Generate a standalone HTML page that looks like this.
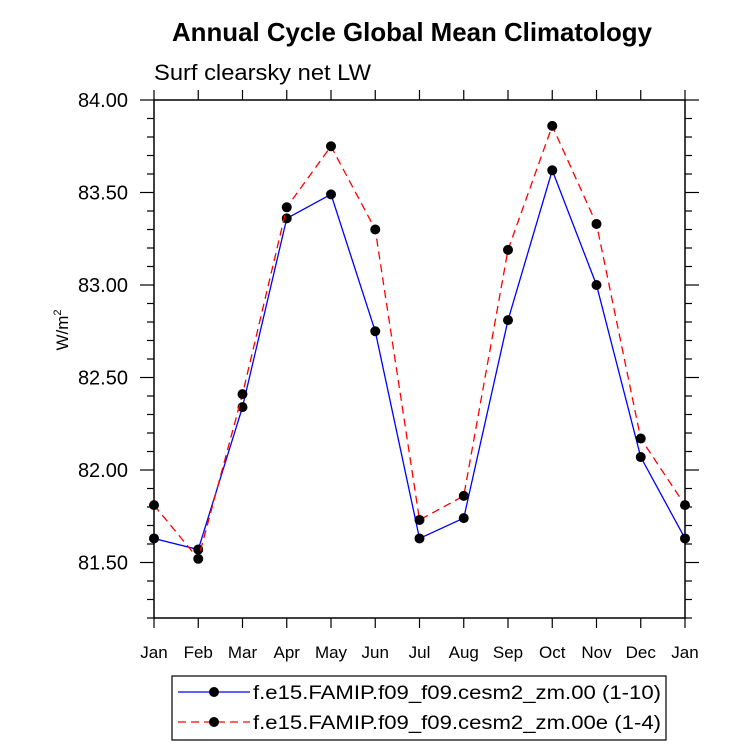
<!DOCTYPE html>
<html><head><meta charset="utf-8"><style>
body{margin:0;background:#fff;}
svg{display:block;font-family:"Liberation Sans",Arial,sans-serif;}
</style></head><body>
<svg id="chart" width="733" height="752" viewBox="0 0 733 752">
<text x="172" y="41" font-size="26" font-weight="bold" textLength="480" lengthAdjust="spacingAndGlyphs">Annual Cycle Global Mean Climatology</text>
<text x="154" y="80" font-size="22" textLength="217" lengthAdjust="spacingAndGlyphs">Surf clearsky net LW</text>
<text transform="translate(68,330) rotate(-90)" text-anchor="middle" font-size="17">W/m<tspan font-size="11" dy="-7">2</tspan></text>
<g id="axes"></g>
<g id="series"></g>
<g>
<rect x="172" y="676" width="494" height="64" fill="none" stroke="#000" stroke-width="1.2"/>
<g>
<line x1="178" y1="692" x2="250" y2="692" stroke="#00f" stroke-width="1.3"/>
<circle cx="214" cy="692" r="5" fill="#000"/>
<text x="253" y="699" font-size="19" textLength="408" lengthAdjust="spacingAndGlyphs">f.e15.FAMIP.f09_f09.cesm2_zm.00 (1-10)</text>
</g>
<g>
<line x1="178" y1="722" x2="250" y2="722" stroke="#f00" stroke-width="1.3" stroke-dasharray="8,5"/>
<circle cx="214" cy="722" r="5" fill="#000"/>
<text x="253" y="729" font-size="19" textLength="408" lengthAdjust="spacingAndGlyphs">f.e15.FAMIP.f09_f09.cesm2_zm.00e (1-4)</text>
</g>
</g>
</svg>
<script>
const months = ["Jan","Feb","Mar","Apr","May","Jun","Jul","Aug","Sep","Oct","Nov","Dec","Jan"];
const blueValues = [81.63,81.57,82.34,83.36,83.49,82.75,81.63,81.74,82.81,83.62,83.00,82.07,81.63];
const redValues = [81.81,81.52,82.41,83.42,83.75,83.30,81.73,81.86,83.19,83.86,83.33,82.17,81.81];
const yTickLabels = ["81.50","82.00","82.50","83.00","83.50","84.00"];
const yMin = 81.2, yMax = 84.0;
const L=154,R=685,T=100,B=618;
const NS="http://www.w3.org/2000/svg";
function xs(i){return L+(R-L)*i/(months.length-1);}
function ys(v){return B-(B-T)*(v-yMin)/(yMax-yMin);}
function mk(tag,attrs,parent){const e=document.createElementNS(NS,tag);for(const k in attrs)e.setAttribute(k,attrs[k]);parent.appendChild(e);return e;}
const ax=document.getElementById('axes');
const frame=mk('rect',{x:L,y:T,width:R-L,height:B-T,fill:'none',stroke:'#000','stroke-width':1.5},ax);


for(let v=81.2;v<=84.0001;v+=0.1){
  const y=ys(v);const major=Math.abs((v*2)-Math.round(v*2))<1e-6;
  const len=major?14:7;
  mk('line',{x1:L-len,y1:y,x2:L,y2:y,stroke:'#000','stroke-width':1.2},ax);
  mk('line',{x1:R,y1:y,x2:R+len,y2:y,stroke:'#000','stroke-width':1.2},ax);
}
yTickLabels.forEach(s=>{
  const t=mk('text',{x:128,y:ys(parseFloat(s))+7,'text-anchor':'end','font-size':20},ax);
  t.textContent=s;
  
  
});
months.forEach((m,i)=>{
  const x=xs(i);
  mk('line',{x1:x,y1:B,x2:x,y2:B+10,stroke:'#000','stroke-width':1.2},ax);
  mk('line',{x1:x,y1:T-10,x2:x,y2:T,stroke:'#000','stroke-width':1.2},ax);
  const t=mk('text',{x:x,y:658,'text-anchor':'middle','font-size':17},ax);
  t.textContent=m;
  
  
});
const sg=document.getElementById('series');
function drawSeries(vals,color,dash,name){
  const g=mk('g',{},sg);
  
  
  const pts=vals.map((v,i)=>xs(i)+','+ys(v)).join(' ');
  const attrs={points:pts,fill:'none',stroke:color,'stroke-width':1.3};
  if(dash)attrs['stroke-dasharray']=dash;
  mk('polyline',attrs,g);
  vals.forEach((v,i)=>{
    const c=mk('circle',{cx:xs(i),cy:ys(v),r:5,fill:'#000'},g);
    
    
  });
}
drawSeries(blueValues,'#00f',null,'series-00');
drawSeries(redValues,'#f00','8,5','series-00e');
</script>
</body></html>
